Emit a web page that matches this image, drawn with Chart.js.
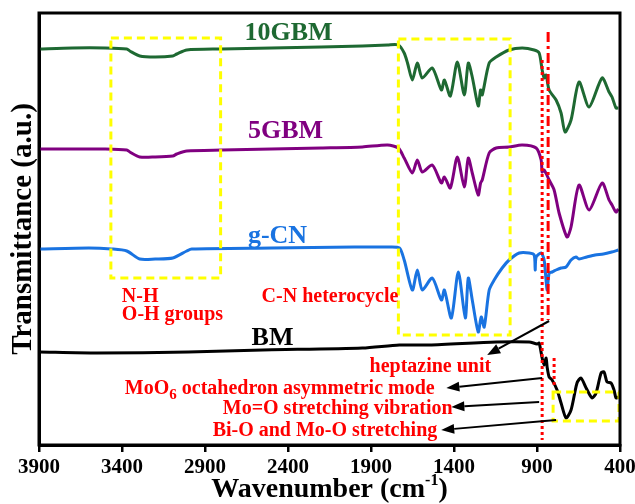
<!DOCTYPE html>
<html>
<head>
<meta charset="utf-8">
<script src="https://cdn.jsdelivr.net/npm/chart.js@4.4.1/dist/chart.umd.min.js"></script>
<style>
  html, body { margin: 0; padding: 0; background: #fff; }
  #wrap { width: 635px; height: 504px; }
</style>
</head>
<body>
<div id="wrap"><canvas id="ftir" width="635" height="504"></canvas></div>
<script>
// FTIR spectra, wavenumber (cm-1) vs transmittance (a.u., curves stacked)
const wn10GBM = [3900, 3700, 3500, 3371, 3353, 3293, 3200, 3094, 3070, 3010, 2800, 2500, 2200, 1952, 1800, 1735, 1700, 1680, 1651, 1621,
  1591, 1531, 1476, 1458, 1422, 1380, 1338, 1314, 1290, 1254, 1240, 1230, 1188, 1146, 1068, 989, 917, 887, 869, 857,
  845, 827, 785, 755, 731, 695, 647, 586, 508, 466, 448, 424, 410];
const t10GBM = [396, 397, 397, 396, 394, 389, 388, 389, 391, 395, 396, 397, 398, 399, 400, 400, 392, 382, 365, 382,
  367, 377, 355, 365, 349, 383, 350, 382, 368, 339, 355, 350, 382, 388, 395, 397, 395, 392, 375, 367,
  370, 355, 345, 332, 313, 325, 363, 338, 367, 353, 348, 337, 337];

const wn5GBM = [3900, 3700, 3500, 3371, 3353, 3293, 3200, 3094, 3070, 3010, 2800, 2500, 2200, 1952, 1800, 1735, 1700, 1651, 1621, 1591,
  1531, 1476, 1458, 1422, 1380, 1338, 1314, 1290, 1254, 1240, 1230, 1188, 1146, 1068, 989, 905, 875, 869, 857, 827,
  797, 767, 719, 695, 647, 586, 508, 466, 448, 424, 410];
const t5GBM = [296, 296, 296, 295, 293, 288, 288, 289, 291, 294, 295, 296, 297, 298, 300, 297, 287, 272, 285, 273,
  280, 262, 268, 257, 288, 258, 287, 272, 250, 262, 265, 292, 297, 298, 300, 297, 285, 273, 275, 265,
  255, 232, 208, 218, 260, 235, 262, 245, 240, 233, 236];

const wnGCN = [3900, 3600, 3461, 3371, 3293, 3200, 3094, 3010, 2980, 2500, 2000, 1800, 1729, 1700, 1651, 1621, 1591, 1531, 1476, 1458,
  1416, 1374, 1332, 1314, 1290, 1254, 1236, 1218, 1188, 1158, 1110, 1068, 1007, 947, 917, 911, 905, 875, 857, 839,
  827, 809, 785, 755, 725, 695, 665, 647, 600, 550, 500, 450, 410];
const tGCN = [196, 197, 196, 194, 186, 186, 187, 194, 196, 197, 198, 198, 197, 185, 155, 175, 155, 167, 145, 155,
  127, 173, 127, 167, 145, 113, 128, 118, 155, 165, 177, 185, 192, 192, 190, 175, 188, 192, 185, 155,
  172, 173, 175, 177, 178, 185, 188, 186, 188, 190, 191, 193, 195];

const wnBM = [3900, 3551, 3000, 2553, 1952, 1729, 1549, 1146, 947, 899, 887, 869, 857, 845, 839, 827, 809, 779, 755, 725,
  695, 659, 635, 604, 568, 544, 514, 496, 478, 454, 436, 424, 410];
const tBM = [93, 92, 93, 95, 97, 100, 100, 103, 103, 101, 102, 87, 80, 87, 78, 68, 65, 55, 42, 27,
  35, 62, 67, 57, 47, 52, 72, 73, 63, 62, 55, 47, 48];

const xTicks = [3900, 3400, 2900, 2400, 1900, 1400, 900, 400];

const serif = "'Liberation Serif', 'Times New Roman', serif";

function pts(xs, ys) {
  return xs.map((v, i) => ({ x: v, y: ys[i] }));
}

// labels, boxes, marker lines and arrows, placed in data units
const overlay = {
  id: 'overlay',
  afterDatasetsDraw(chart) {
    const { ctx, chartArea: a, scales } = chart;
    const X = v => scales.x.getPixelForValue(v);
    const Y = v => scales.y.getPixelForValue(v);
    ctx.save();

    // yellow dashed boxes [wnLeft, wnRight, top, bottom]
    ctx.strokeStyle = '#ffff00';
    ctx.lineWidth = 3;
    ctx.setLineDash([8, 5]);
    [[3467, 2806, 407, 167], [1735, 1062, 406, 110], [803, 406, 53, 24]].forEach(b => {
      ctx.strokeRect(X(b[0]), Y(b[2]), X(b[1]) - X(b[0]), Y(b[3]) - Y(b[2]));
    });

    // red marker lines
    ctx.strokeStyle = '#ff0000';
    ctx.setLineDash([10, 4, 3, 4]);
    ctx.beginPath(); ctx.moveTo(X(833), Y(413)); ctx.lineTo(X(833), Y(125)); ctx.stroke();
    ctx.setLineDash([3, 3]);
    ctx.beginPath(); ctx.moveTo(X(869), Y(385)); ctx.lineTo(X(869), Y(5)); ctx.stroke();
    ctx.beginPath(); ctx.moveTo(X(797), Y(87)); ctx.lineTo(X(797), Y(60)); ctx.stroke();
    ctx.setLineDash([]);

    // arrows [tailWn, tailY, headWn, headY]
    ctx.strokeStyle = '#000';
    ctx.fillStyle = '#000';
    ctx.lineWidth = 2;
    [[827, 124, 1200, 90], [869, 67, 1446, 57], [887, 43, 1416, 38], [785, 25, 1477, 15]].forEach(r => {
      const x0 = X(r[0]), y0 = Y(r[1]), x1 = X(r[2]), y1 = Y(r[3]);
      const ang = Math.atan2(y1 - y0, x1 - x0);
      const len = 13, half = 5;
      const bx = x1 - len * Math.cos(ang), by = y1 - len * Math.sin(ang);
      ctx.beginPath(); ctx.moveTo(x0, y0); ctx.lineTo(bx, by); ctx.stroke();
      ctx.beginPath();
      ctx.moveTo(x1, y1);
      ctx.lineTo(bx + half * Math.sin(ang), by - half * Math.cos(ang));
      ctx.lineTo(bx - half * Math.sin(ang), by + half * Math.cos(ang));
      ctx.closePath();
      ctx.fill();
    });

    // series names
    ctx.textAlign = 'center';
    ctx.textBaseline = 'alphabetic';
    ctx.font = 'bold 26px ' + serif;
    [['10GBM', 2397, 405, 'rgb(30,105,50)'], ['5GBM', 2415, 307, 'rgb(128,0,128)'],
     ['g-CN', 2463, 202, 'rgb(25,115,225)'], ['BM', 2493, 100, '#000']].forEach(s => {
      ctx.fillStyle = s[3];
      ctx.fillText(s[0], X(s[1]), Y(s[2]));
    });

    // red notes
    ctx.fillStyle = '#ff0000';
    ctx.textAlign = 'left';
    ctx.font = 'bold 20px ' + serif;
    [['N-H', 3401, 143], ['O-H groups', 3401, 125], ['C-N heterocycle', 2559, 143],
     ['heptazine unit', 1909, 73], ['Mo=O stretching vibration', 2793, 31],
     ['Bi-O and Mo-O stretching', 2854, 9]].forEach(n => {
      ctx.fillText(n[0], X(n[1]), Y(n[2]));
    });
    // MoO6 with subscript
    let tx = X(3383);
    const ty = Y(51);
    ctx.fillText('MoO', tx, ty);
    tx += ctx.measureText('MoO').width;
    ctx.font = 'bold 15px ' + serif;
    ctx.fillText('6', tx, ty + 5);
    tx += ctx.measureText('6').width;
    ctx.font = 'bold 20px ' + serif;
    ctx.fillText(' octahedron asymmetric mode', tx, ty);

    // frame
    ctx.strokeStyle = '#000';
    ctx.lineWidth = 3;
    ctx.strokeRect(a.left, a.top, a.right - a.left, a.bottom - a.top);

    // x axis title with superscript
    ctx.fillStyle = '#000';
    const main = 'Wavenumber (cm', sup = '-1', end = ')';
    ctx.font = 'bold 28px ' + serif;
    const w1 = ctx.measureText(main).width, w3 = ctx.measureText(end).width;
    ctx.font = 'bold 16px ' + serif;
    const w2 = ctx.measureText(sup).width;
    let sx = (a.left + a.right) / 2 - (w1 + w2 + w3) / 2;
    const sy = chart.height - 7;
    ctx.font = 'bold 28px ' + serif;
    ctx.fillText(main, sx, sy);
    ctx.font = 'bold 16px ' + serif;
    ctx.fillText(sup, sx + w1, sy - 12);
    ctx.font = 'bold 28px ' + serif;
    ctx.fillText(end, sx + w1 + w2, sy);
    ctx.restore();
  }
};

new Chart(document.getElementById('ftir'), {
  type: 'line',
  data: {
    datasets: [
      { label: '10GBM', data: pts(wn10GBM, t10GBM), borderColor: 'rgb(30,105,50)' },
      { label: '5GBM', data: pts(wn5GBM, t5GBM), borderColor: 'rgb(128,0,128)' },
      { label: 'g-CN', data: pts(wnGCN, tGCN), borderColor: 'rgb(25,115,225)' },
      { label: 'BM', data: pts(wnBM, tBM), borderColor: '#000' }
    ]
  },
  options: {
    responsive: false,
    animation: false,
    layout: { padding: { top: 13, right: 15, left: 0, bottom: 0 } },
    elements: {
      line: { borderWidth: 3, tension: 0.25, fill: false },
      point: { radius: 0 }
    },
    plugins: { legend: { display: false }, tooltip: { enabled: false } },
    scales: {
      x: {
        type: 'linear',
        reverse: true,
        min: 400,
        max: 3900,
        afterBuildTicks: scale => { scale.ticks = xTicks.map(v => ({ value: v })); },
        afterFit: scale => { scale.height = 59; scale.paddingRight = 0; scale.paddingLeft = 0; },
        grid: { display: true, drawOnChartArea: false, drawTicks: true, tickLength: 7, color: '#000', lineWidth: 2.5 },
        border: { display: true, color: '#000', width: 3 },
        ticks: {
          color: '#000',
          padding: 3,
          maxRotation: 0,
          callback: v => String(v),
          font: { family: serif, size: 21, weight: 'bold' }
        }
      },
      y: {
        min: 0,
        max: 432,
        afterFit: scale => { scale.width = 39; },
        grid: { display: false },
        border: { display: true, color: '#000', width: 3 },
        ticks: { display: false },
        title: {
          display: true,
          text: 'Transmittance (a.u.)',
          color: '#000',
          padding: { top: 6, bottom: 0 },
          font: { family: serif, size: 29, weight: 'bold' }
        }
      }
    }
  },
  plugins: [overlay]
});
</script>
</body>
</html>
